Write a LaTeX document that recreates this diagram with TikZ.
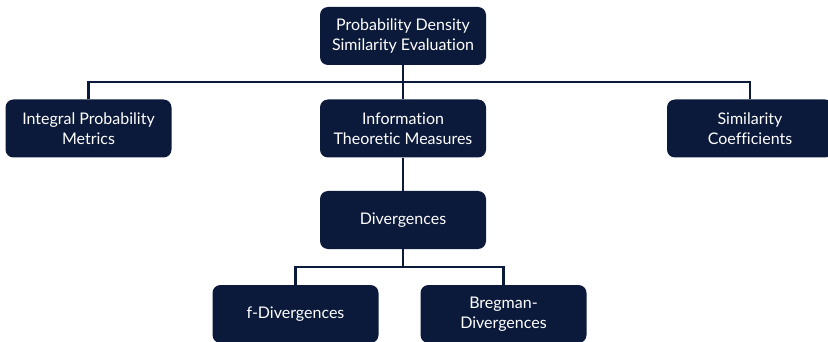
\documentclass[tikz,border=0pt]{standalone}
\usepackage{fontspec}
\setmainfont{Lato}[Ligatures={NoCommon}]
\definecolor{navy}{HTML}{0B1A3B}
\begin{document}
\begin{tikzpicture}[x=1pt,y=-1pt,
  box/.style={draw=none,fill=navy,rounded corners=8pt,text=white,align=center,
    minimum width=166pt,minimum height=58pt,font=\fontsize{16}{19.5}\selectfont,inner sep=0pt},
  conn/.style={draw=navy,line width=2.4pt}]
\useasboundingbox (0,0) rectangle (828,342);
\node[box] (top) at (403,36) {Probability Density\\Similarity Evaluation};
\node[box] (ipm) at (88.5,128.5) {Integral Probability\\Metrics};
\node[box] (itm) at (403,128.5) {Information\\Theoretic Measures};
\node[box] (sc) at (750,128.5) {Similarity\\Coefficients};
\node[box] (div) at (403,220) {Divergences};
\node[box] (fd) at (295.5,314) {f-Divergences};
\node[box] (bd) at (503.5,314) {Bregman-\\Divergences};
\coordinate (h1) at (403,82);
\coordinate (h2) at (403,267);
\draw[conn] (top.south) -- (itm.north);
\draw[conn] (ipm.north) |- (h1) -| (sc.north);
\draw[conn] (itm.south) -- (div.north);
\draw[conn] (div.south) -- (h2);
\draw[conn] (fd.north) |- (h2) -| (bd.north);
\end{tikzpicture}
\end{document}
